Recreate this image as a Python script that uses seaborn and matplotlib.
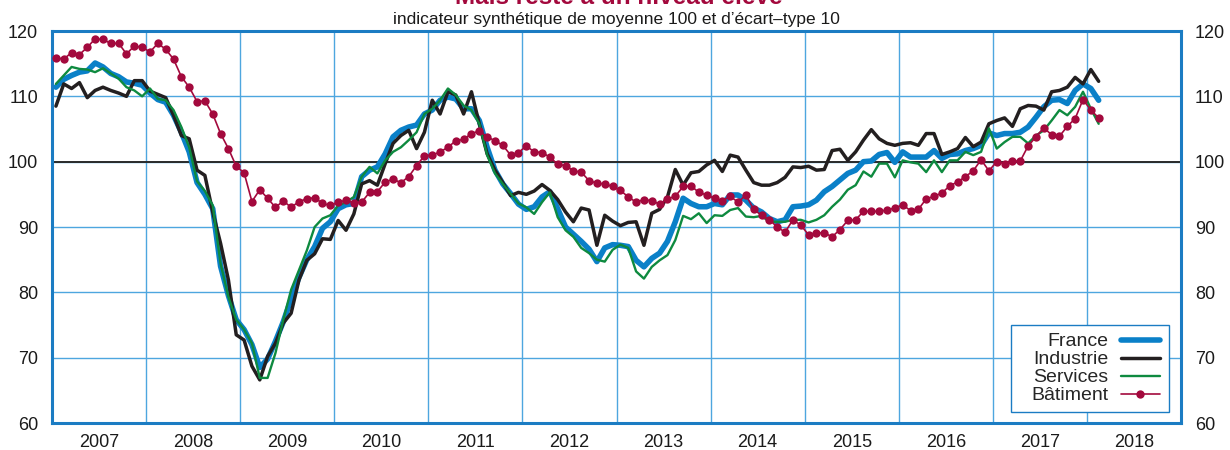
import numpy as np
import pandas as pd
import seaborn as sns
import matplotlib.pyplot as plt
from matplotlib.patches import Rectangle

# monthly data, Jan 2007 -> Feb 2018
months = pd.period_range('2007-01', '2018-02', freq='M')

france = [
    111.4, 112.6, 113.2, 113.7, 113.9, 115.1, 114.5, 113.5, 113.0, 112.2, 112.0, 111.7,
    110.5, 109.5, 109.1, 107.1, 104.5, 101.5, 96.8, 95.0, 92.8, 84.0, 79.5, 75.8,
    74.3, 72.0, 68.5, 69.8, 72.5, 75.5, 79.0, 82.3, 85.0, 87.0, 89.8, 90.8,
    92.8, 93.4, 93.6, 97.7, 98.7, 99.2, 101.2, 103.8, 104.8, 105.3, 105.6, 107.3,
    107.9, 109.4, 109.9, 109.6, 108.1, 108.1, 106.3, 102.2, 98.7, 96.6, 95.1, 93.5,
    92.7, 93.1, 94.6, 95.4, 92.8, 90.0, 88.9, 87.8, 86.6, 84.7, 86.8, 87.3,
    87.2, 87.0, 84.9, 83.9, 85.2, 86.0, 87.8, 90.8, 94.4, 93.6, 93.1, 93.1,
    93.6, 93.4, 94.9, 94.9, 94.1, 92.9, 92.3, 91.3, 90.8, 91.1, 93.1, 93.2,
    93.4, 94.1, 95.4, 96.2, 97.2, 98.2, 98.7, 100.0, 100.1, 101.1, 101.4, 99.9,
    101.5, 100.7, 100.7, 100.7, 101.7, 100.5, 101.1, 101.2, 101.7, 102.0, 102.5, 104.4,
    104.0, 104.3, 104.3, 104.5, 105.3, 106.8, 108.4, 109.4, 109.5, 108.9, 110.9, 111.9,
    111.2, 109.4,
]

industrie = [
    108.5, 111.9, 111.2, 112.1, 109.8, 110.9, 111.4, 110.9, 110.5, 110.0, 112.4, 112.4,
    110.8, 110.3, 109.8, 107.1, 104.0, 103.5, 98.7, 97.9, 92.3, 87.5, 81.9, 73.5,
    72.7, 68.7, 66.6, 70.2, 72.2, 75.3, 76.8, 81.9, 84.9, 85.9, 88.2, 88.1,
    91.0, 89.5, 92.0, 96.6, 97.1, 96.4, 99.7, 102.8, 104.0, 104.8, 102.0, 104.5,
    109.4, 107.3, 110.7, 110.2, 107.3, 110.7, 105.8, 101.2, 98.7, 96.8, 94.8, 95.3,
    95.0, 95.5, 96.5, 95.6, 94.2, 92.3, 90.8, 92.9, 92.6, 87.2, 91.8, 90.9,
    90.2, 90.7, 90.8, 87.2, 92.1, 92.7, 94.6, 98.8, 96.4, 98.3, 98.5, 99.5,
    100.2, 98.5, 101.0, 100.7, 98.7, 96.8, 96.4, 96.4, 96.8, 97.6, 99.2, 99.1,
    99.3, 98.7, 98.8, 101.7, 101.9, 100.2, 101.5, 103.3, 104.9, 103.5, 102.8, 102.5,
    102.8, 102.9, 102.5, 104.3, 104.3, 101.1, 101.5, 102.0, 103.7, 102.3, 103.0, 105.8,
    106.3, 106.7, 105.4, 108.1, 108.6, 108.5, 107.9, 110.7, 110.9, 111.4, 112.9, 111.9,
    114.1, 112.3,
]

services = [
    111.9, 113.2, 114.5, 114.2, 114.1, 113.7, 114.3, 113.5, 112.7, 111.4, 110.9, 110.0,
    111.2, 109.6, 109.4, 107.9, 105.3, 102.2, 97.0, 95.5, 93.3, 84.4, 79.3, 75.8,
    74.3, 72.2, 66.9, 66.9, 70.7, 75.8, 80.4, 83.4, 86.4, 90.0, 91.3, 91.8,
    93.3, 93.8, 94.6, 97.7, 99.2, 98.2, 100.2, 101.5, 102.2, 103.3, 104.5, 107.3,
    108.1, 109.4, 111.2, 110.2, 108.6, 107.9, 105.8, 101.0, 98.2, 96.6, 95.1, 93.6,
    93.0, 92.0, 93.8, 95.3, 91.5, 89.5, 88.5, 86.8, 86.0, 85.0, 84.7, 86.5,
    87.3, 86.8, 83.2, 82.1, 83.9, 84.9, 85.7, 88.0, 91.7, 91.2, 92.1, 90.6,
    91.8, 91.7, 92.6, 92.9, 91.6, 91.5, 91.7, 90.8, 90.8, 90.8, 91.1, 91.1,
    90.7, 91.1, 91.8, 93.1, 94.2, 95.7, 96.4, 98.5, 97.7, 99.7, 99.7, 97.6,
    100.2, 99.9, 99.7, 98.4, 100.2, 98.4, 100.2, 100.2, 101.5, 101.0, 101.5, 105.1,
    102.0, 103.0, 103.8, 103.8, 102.8, 104.0, 104.8, 106.3, 107.9, 107.1, 108.4, 110.7,
    108.1, 105.8,
]

batiment = [
    115.9, 115.7, 116.7, 116.4, 117.5, 118.8, 118.7, 118.1, 118.1, 116.5, 117.7, 117.5,
    116.8, 118.1, 117.2, 115.7, 113.0, 111.4, 109.2, 109.3, 107.3, 104.3, 102.0, 99.3,
    98.3, 93.9, 95.7, 94.4, 93.0, 94.0, 93.0, 93.9, 94.3, 94.5, 93.6, 93.3,
    93.8, 94.1, 93.7, 93.8, 95.3, 95.4, 96.9, 97.3, 96.8, 97.7, 99.4, 100.9,
    101.0, 101.5, 102.2, 103.2, 103.4, 104.3, 104.7, 103.8, 103.2, 102.5, 101.0, 101.4,
    102.4, 101.5, 101.4, 100.7, 99.6, 99.4, 98.6, 98.4, 97.1, 96.7, 96.6, 96.2,
    95.6, 94.6, 93.8, 94.2, 94.0, 93.5, 94.3, 94.7, 96.2, 96.3, 95.3, 94.9,
    94.4, 94.0, 94.7, 93.8, 94.9, 92.7, 91.8, 91.1, 90.0, 89.2, 91.1, 90.3,
    88.8, 89.1, 89.1, 88.5, 89.6, 91.0, 91.1, 92.4, 92.4, 92.4, 92.6, 92.9,
    93.4, 92.5, 92.7, 94.3, 94.7, 95.2, 96.3, 96.9, 97.7, 98.6, 100.3, 98.6,
    100.0, 99.7, 100.1, 100.1, 102.4, 103.8, 105.2, 104.1, 103.9, 105.4, 106.6, 109.5,
    107.9, 106.7,
]

years = list(range(2007, 2019))
yticks = [60, 70, 80, 90, 100, 110, 120]

# x position: middle of each month in decimal years
x = months.year + (months.month - 0.5) / 12

sns.set_style("white")
plt.rcParams['font.family'] = ['Liberation Sans', 'DejaVu Sans']

grid_blue = '#4ea6df'
frame_blue = '#1b7cc3'

fig = plt.figure(figsize=(12.3, 4.5), dpi=100)
ax = fig.add_axes([52 / 1230, 27 / 450, 1129 / 1230, 392 / 450])

sns.lineplot(x=x, y=france, color='#0a80c8', lw=4.0, label='France', ax=ax, zorder=3)
sns.lineplot(x=x, y=industrie, color='#231f20', lw=2.5, label='Industrie', ax=ax, zorder=4)
sns.lineplot(x=x, y=services, color='#0e8a3f', lw=1.7, label='Services', ax=ax, zorder=5)
sns.lineplot(x=x, y=batiment, color='#a3093d', lw=1.2, marker='o', markersize=6,
             markeredgewidth=0, label='Bâtiment', ax=ax, zorder=6)

ax.axhline(100, color='#2a2a2a', lw=1.4, zorder=2)

ax.set_xlim(2007, 2019)
ax.set_ylim(60, 120)
ax.set_xticks(years)
ax.set_xticklabels([])
ax.set_xticks([y + 0.5 for y in years], minor=True)
ax.set_xticklabels([str(y) for y in years], minor=True)
ax.set_yticks(yticks)
ax.tick_params(axis='x', which='both', length=0, labelsize=13, pad=8, colors='#1a1a1a')
ax.tick_params(axis='y', length=0, labelsize=13, pad=10, colors='#1a1a1a',
               labelleft=True, labelright=True)
ax.grid(True, which='major', color=grid_blue, lw=1.0)
ax.set_xlabel('')
ax.set_ylabel('')
for s in ax.spines.values():
    s.set_color(frame_blue)
    s.set_linewidth(2.2)

fig.text(0.503, 1 - 4 / 450, 'Mais reste à un niveau élevé', ha='center', va='baseline',
         fontsize=17.5, fontweight='bold', color='#a3093d')
fig.text(0.501, 1 - 24 / 450, "indicateur synthétique de moyenne 100 et d’écart–type 10",
         ha='center', va='baseline', fontsize=12.5, color='#1a1a1a')

# legend box drawn separately (wider than matplotlib's frame)
box = Rectangle((0.8494, 0.028), 0.140, 0.222, transform=ax.transAxes,
                facecolor='white', edgecolor=frame_blue, lw=1.0, zorder=9)
ax.add_patch(box)

# handles on the right, labels right-aligned against them
leg = ax.legend(loc='center right', bbox_to_anchor=(0.981, 0.139), borderaxespad=0,
                markerfirst=False, frameon=False, fontsize=14, handlelength=2.0,
                labelspacing=0.02, borderpad=0, handletextpad=0.65)
leg.set_zorder(10)

fig.savefig('out.png', dpi=100)
